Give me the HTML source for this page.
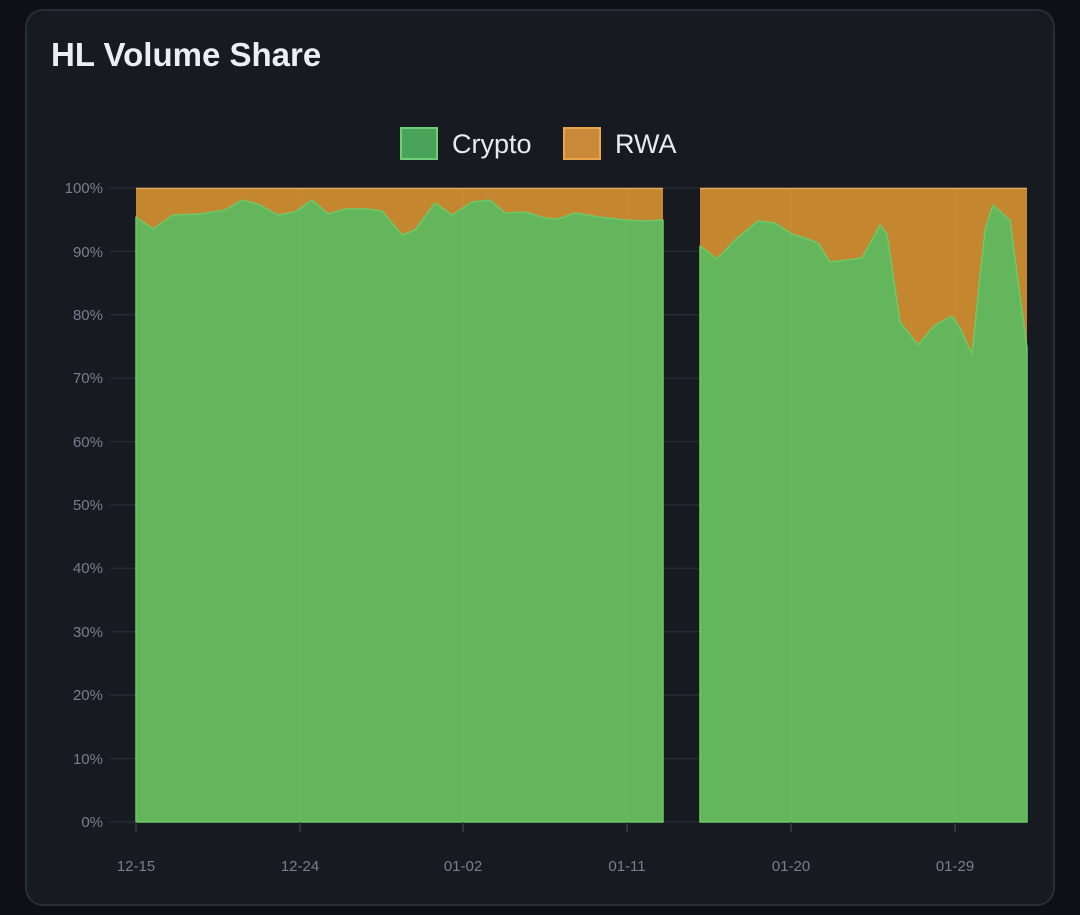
<!DOCTYPE html>
<html><head><meta charset="utf-8"><style>
html,body{margin:0;padding:0;background:#0e1015;width:1080px;height:915px;overflow:hidden;font-family:"Liberation Sans",sans-serif}
.card{position:absolute;left:25px;top:9px;width:1030px;height:897px;background:#181a21;border:2px solid #2a2d35;border-radius:18px;box-sizing:border-box}
</style></head><body>
<div class="card"></div>
<svg width="1080" height="915" style="position:absolute;left:0;top:0">
<text x="51" y="66" fill="#eceef3" font-size="33" font-weight="bold" font-family="Liberation Sans, sans-serif">HL Volume Share</text>
<rect x="401" y="128" width="36" height="31" fill="#4aa35a" stroke="#6fcf78" stroke-width="2"/>
<text x="452" y="153" fill="#e8eaf0" font-size="27">Crypto</text>
<rect x="564" y="128" width="36" height="31" fill="#c8893a" stroke="#e9a548" stroke-width="2"/>
<text x="615" y="153" fill="#e8eaf0" font-size="27">RWA</text>
<g stroke="#272a33" stroke-width="1.5">
<line x1="110" y1="188" x2="1027" y2="188"/><line x1="110" y1="251.4" x2="1027" y2="251.4"/><line x1="110" y1="314.8" x2="1027" y2="314.8"/><line x1="110" y1="378.2" x2="1027" y2="378.2"/><line x1="110" y1="441.6" x2="1027" y2="441.6"/><line x1="110" y1="505" x2="1027" y2="505"/><line x1="110" y1="568.4" x2="1027" y2="568.4"/><line x1="110" y1="631.8" x2="1027" y2="631.8"/><line x1="110" y1="695.2" x2="1027" y2="695.2"/><line x1="110" y1="758.6" x2="1027" y2="758.6"/><line x1="110" y1="822" x2="1027" y2="822"/>
</g>
<g fill="#7a7e88" font-size="15" text-anchor="end">
<text x="103" y="193">100%</text><text x="103" y="257">90%</text><text x="103" y="320">80%</text><text x="103" y="383">70%</text><text x="103" y="447">60%</text><text x="103" y="510">50%</text><text x="103" y="573">40%</text><text x="103" y="637">30%</text><text x="103" y="700">20%</text><text x="103" y="764">10%</text><text x="103" y="827">0%</text>
</g>
<rect x="136" y="188" width="527" height="634" fill="#c4862f"/>
<rect x="700" y="188" width="327" height="634" fill="#c4862f"/>
<line x1="136" y1="188.5" x2="663" y2="188.5" stroke="#e0a45a" stroke-width="1.5"/>
<line x1="700" y1="188.5" x2="1027" y2="188.5" stroke="#e0a45a" stroke-width="1.5"/>
<path d="M136,217 L153,229 L173,215 L200,214 L225,210 L242,200 L258,204 L278,215 L295,212 L312,200 L328,214 L345,209 L367,209 L382,211 L402,235 L415,230 L435,203 L452,215 L472,202 L490,200 L505,213 L525,212 L545,218 L558,219 L575,213 L600,217 L625,220 L645,221 L663,220 L663,822 L136,822 Z" fill="#64b65c" stroke="#6fc866" stroke-width="1.5" stroke-linejoin="round"/>
<path d="M700,246 L717,259 L735,240 L758,221 L775,223 L792,234 L805,238 L818,243 L830,262 L847,260 L862,258 L872,240 L880,225 L887,234 L900,322 L918,345 L935,325 L952,316 L960,328 L972,354 L985,230 L993,205 L1010,220 L1027,348 L1027,822 L700,822 Z" fill="#64b65c" stroke="#6fc866" stroke-width="1.5" stroke-linejoin="round"/>
<g stroke="#ffffff" stroke-width="1" opacity="0.05">
<line x1="300" y1="188" x2="300" y2="822"/><line x1="463" y1="188" x2="463" y2="822"/><line x1="627" y1="188" x2="627" y2="822"/><line x1="791" y1="188" x2="791" y2="822"/><line x1="955" y1="188" x2="955" y2="822"/>
</g>
<g stroke="#3a3d46" stroke-width="1.5">
<line x1="136" y1="822" x2="136" y2="832"/><line x1="300" y1="822" x2="300" y2="832"/><line x1="463" y1="822" x2="463" y2="832"/><line x1="627" y1="822" x2="627" y2="832"/><line x1="791" y1="822" x2="791" y2="832"/><line x1="955" y1="822" x2="955" y2="832"/>
</g>
<g fill="#7a7e88" font-size="15" text-anchor="middle">
<text x="136" y="871">12-15</text><text x="300" y="871">12-24</text><text x="463" y="871">01-02</text><text x="627" y="871">01-11</text><text x="791" y="871">01-20</text><text x="955" y="871">01-29</text>
</g>
</svg>
</body></html>
